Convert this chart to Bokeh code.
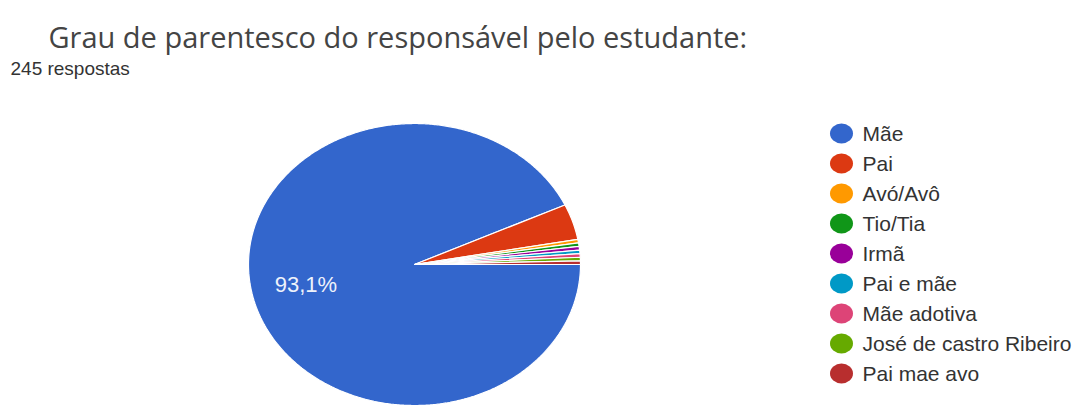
import numpy as np
from bokeh.plotting import figure
from bokeh.models import Range1d
from bokeh.core.properties import value
from bokeh.embed import file_html
from bokeh.resources import INLINE

# ---- data ----
title_text = "Grau de parentesco do responsável pelo estudante:"
subtitle_text = "245 respostas"
categories = ["Mãe", "Pai", "Avó/Avô", "Tio/Tia", "Irmã", "Pai e mãe",
              "Mãe adotiva", "José de castro Ribeiro", "Pai mae avo"]
counts = [228, 10, 1, 1, 1, 1, 1, 1, 1]
colors = ["#3366cc", "#dc3912", "#ff9900", "#109618", "#990099",
          "#0099c6", "#dd4477", "#66aa00", "#b82e2e"]

# ---- layout (pixels) ----
W, H = 1085, 405
CX, CY, RX, RY = 414, 264, 166, 141


def X(px):
    return (px - CX) / RX


def Y(py):
    return (CY - py) / RY


p = figure(width=W, height=H, output_backend="svg", toolbar_location=None,
           x_range=Range1d(X(0), X(W)), y_range=Range1d(Y(H), Y(0)),
           min_border=0)
p.axis.visible = False
p.grid.visible = False
p.outline_line_color = None
p.background_fill_color = "white"
p.border_fill_color = "white"

# ---- pie (clockwise from 3 o'clock) ----
vals = np.array(counts, dtype=float)
frac = vals / vals.sum()
cum = np.concatenate([[0], np.cumsum(frac)])
xs, ys = [], []
for i in range(len(vals)):
    a0, a1 = -cum[i] * 2 * np.pi, -cum[i + 1] * 2 * np.pi
    n = max(4, int(abs(a1 - a0) / (2 * np.pi) * 720))
    t = np.linspace(a0, a1, n)
    xs.append(np.concatenate([[0], np.cos(t)]).tolist())
    ys.append(np.concatenate([[0], np.sin(t)]).tolist())
p.patches(xs, ys, fill_color=colors, line_color="white", line_width=1.2)

# percentage label on largest slice
mid = -(cum[0] + cum[1]) * np.pi
pct = f"{frac[0]*100:.1f}%".replace(".", ",")
p.text([0.67 * np.cos(mid)], [0.67 * np.sin(mid)], text=[pct],
       text_font=value("Liberation Sans"), text_font_size="22px",
       text_color="#eef2fb", text_align="center", text_baseline="middle")

# ---- titles ----
p.text([X(48)], [Y(36)], text=[title_text], text_font=value("Open Sans"),
       text_font_size="29px", text_color="#444444",
       text_align="left", text_baseline="alphabetic")
p.text([X(10)], [Y(68)], text=[subtitle_text], text_font=value("Liberation Sans"),
       text_font_size="19px", text_color="#333333",
       text_align="left", text_baseline="alphabetic")

# ---- legend ----
ly = [133 + 30 * i for i in range(len(categories))]
p.ellipse([X(841)] * len(categories), [Y(v) for v in ly], width=23, height=20,
          width_units="screen", height_units="screen",
          fill_color=colors, line_color=None)
p.text([X(862)] * len(categories), [Y(v) for v in ly], text=categories,
       text_font=value("Liberation Sans"), text_font_size="21px",
       text_color="#333333", text_align="left", text_baseline="middle")

open("out.html", "w").write(file_html(p, INLINE))
